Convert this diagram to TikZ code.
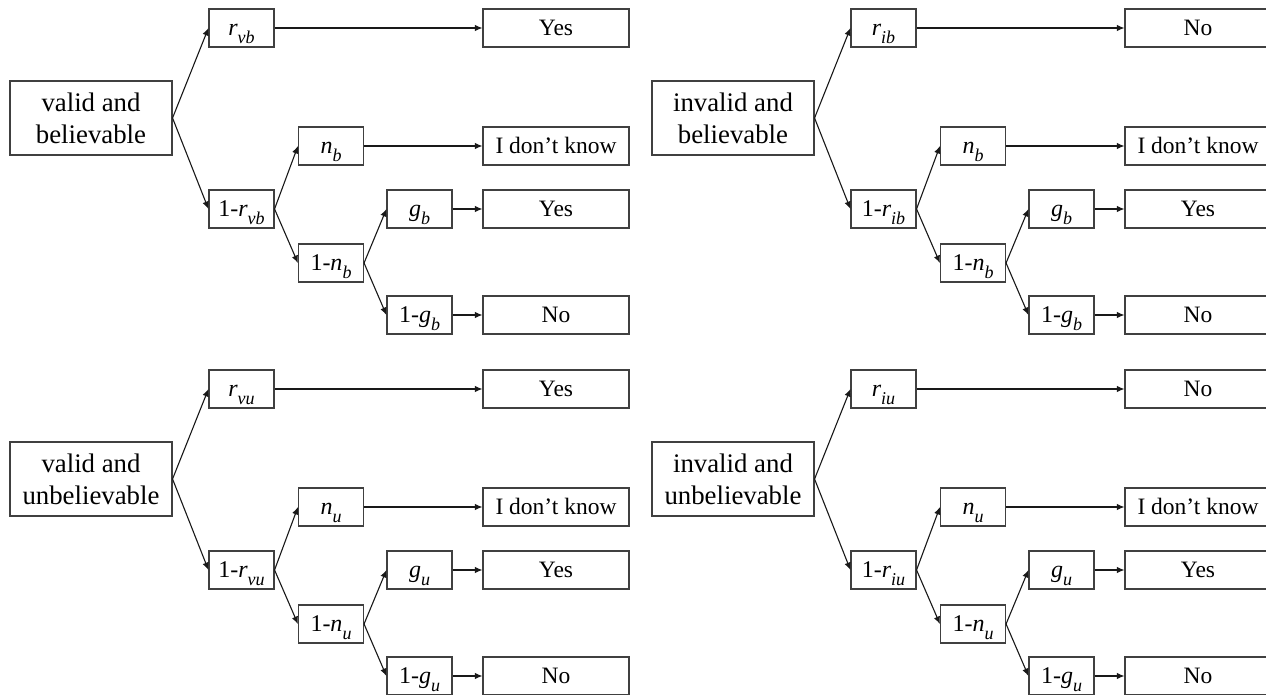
\documentclass[tikz,border=0pt]{standalone}
\usepackage{fontspec}
\setmainfont{Liberation Serif}
\usetikzlibrary{arrows.meta}
\newcommand\lowsub[1]{\raisebox{-0.33em}{\fontsize{18}{18}\selectfont\itshape #1}}
\newcommand\pvar[2]{\textit{#1}\lowsub{#2}}
\tikzset{
  x=1pt, y=-1pt,
  box/.style={draw=black!75, line width=1.1pt, inner sep=0pt, anchor=center,
    font=\fontsize{24}{28}\selectfont, text height=15.5pt, text depth=0pt},
  smallbox/.style={box, minimum width=65pt, minimum height=38pt},
  outbox/.style={box, minimum width=146pt, minimum height=38pt, font=\fontsize{23.5}{28}\selectfont},
  rootbox/.style={draw=black!75, line width=1.1pt, inner sep=0pt, anchor=center,
    minimum width=162pt, minimum height=74pt, align=center,
    font=\fontsize{26.8}{32}\selectfont},
  arr/.style={-{Latex[length=7.5pt,width=6.5pt]}, line width=1.1pt, draw=black!90},
}
% #1 prefix, #2 dx, #3 dy, #4 root text, #5 r-subscript, #6 n/g subscript, #7 first outcome
\newcommand\treepanel[7]{%
\begin{scope}[shift={(#2,#3)}]
  \node[rootbox] (#1root) at (91,118) {#4};
  \node[smallbox] (#1A) at (241.5,28) {\pvar{r}{#5}};
  \node[smallbox] (#1B) at (241.5,209) {1-\pvar{r}{#5}};
  \node[smallbox] (#1C) at (331,146) {\pvar{n}{#6}};
  \node[smallbox] (#1D) at (331,263) {1-\pvar{n}{#6}};
  \node[smallbox] (#1E) at (419.5,209) {\pvar{g}{#6}};
  \node[smallbox] (#1F) at (419.5,315) {1-\pvar{g}{#6}};
  \node[outbox] (#1O1) at (556,28) {#7};
  \node[outbox] (#1O2) at (556,146) {I don’t know};
  \node[outbox] (#1O3) at (556,209) {Yes};
  \node[outbox] (#1O4) at (556,315) {No};
  \draw[arr] (#1root.east) -- (#1A.west);
  \draw[arr] (#1root.east) -- (#1B.west);
  \draw[arr] (#1B.east) -- (#1C.west);
  \draw[arr] (#1B.east) -- (#1D.west);
  \draw[arr] (#1D.east) -- (#1E.west);
  \draw[arr] (#1D.east) -- (#1F.west);
  \draw[arr] (#1A.east) -- (#1O1.west);
  \draw[arr] (#1C.east) -- (#1O2.west);
  \draw[arr] (#1E.east) -- (#1O3.west);
  \draw[arr] (#1F.east) -- (#1O4.west);
\end{scope}}
\begin{document}
\begin{tikzpicture}
  \useasboundingbox (0,0) rectangle (1266,695);
  \clip (0,0) rectangle (1266,695);
  \fill[white] (0,0) rectangle (1266,695);
  \treepanel{vb}{0}{0}{valid and\\believable}{vb}{b}{Yes}
  \treepanel{ib}{642}{0}{invalid and\\believable}{ib}{b}{No}
  \treepanel{vu}{0}{361}{valid and\\unbelievable}{vu}{u}{Yes}
  \treepanel{iu}{642}{361}{invalid and\\unbelievable}{iu}{u}{No}
\end{tikzpicture}
\end{document}
